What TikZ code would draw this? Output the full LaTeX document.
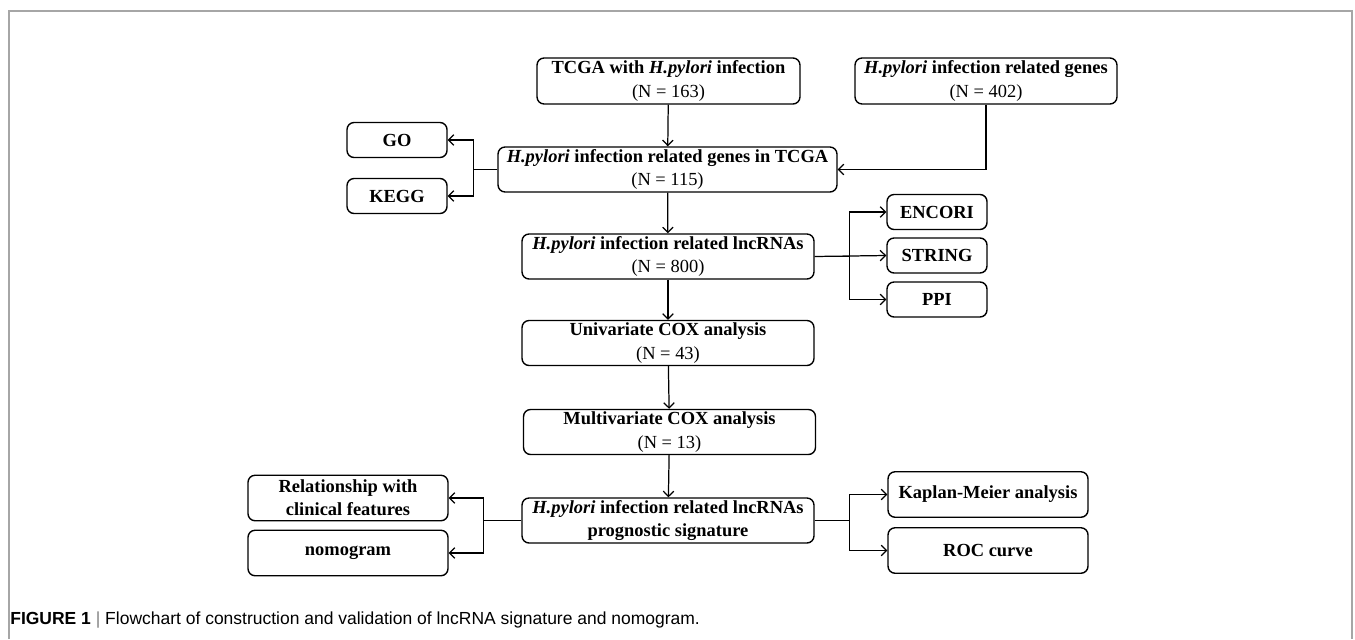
\documentclass[tikz,border=0pt]{standalone}
\usepackage{fontspec}
\setmainfont{Liberation Serif}
\newfontfamily\capfont{Liberation Sans}
\usetikzlibrary{arrows.meta}

\begin{document}
\begin{tikzpicture}[x=0.02cm,y=-0.02cm]

\tikzset{stage/.style = {shape=rectangle,draw,rounded corners=4pt,line width=0.8pt,align=center,font=\fontsize{10.5}{13.2}\selectfont\bfseries,inner sep=1pt}}
\tikzset{mainbox/.style = {stage,minimum width=5.84cm,minimum height=0.9cm}}
\tikzset{sidebox/.style = {stage,minimum width=2.0cm,minimum height=0.7cm}}
\tikzset{wide/.style = {stage,minimum width=4.0cm,minimum height=0.91cm}}
\tikzset{edge/.style = {-{Straight Barb[length=3pt,width=6pt]},line width=0.7pt}}
\newcommand{\hp}{\textit{H.pylori}}

\useasboundingbox (0,0) rectangle (1355,639);
% frame
\draw[gray!70,line width=0.6pt] (9,639) -- (9,11) -- (1352,11) -- (1352,639);

% vertices
\node[stage,minimum width=5.26cm,minimum height=0.92cm] (tcga) at (668.5,81) {TCGA with \hp{} infection\\ \mdseries(N = 163)};
\node[stage,minimum width=5.24cm,minimum height=0.92cm] (hpgenes) at (986,81) {\hp{} infection related genes\\ \mdseries(N = 402)};
\node[stage,minimum width=6.78cm,minimum height=0.9cm] (tcgagenes) at (667.5,169.5) {\hp{} infection related genes in TCGA\\ \mdseries(N = 115)};
\node[sidebox] (go) at (397,140) {GO};
\node[sidebox] (kegg) at (397,196) {KEGG};
\node[mainbox] (lnc) at (668,256.5) {\hp{} infection related lncRNAs\\ \mdseries(N = 800)};
\node[sidebox] (encori) at (937,212) {ENCORI};
\node[sidebox] (string) at (937,255.5) {STRING};
\node[sidebox] (ppi) at (937,299.5) {PPI};
\node[mainbox] (unicox) at (668,343) {Univariate COX analysis\\ \mdseries(N = 43)};
\node[mainbox] (multicox) at (669.5,432) {Multivariate COX analysis\\ \mdseries(N = 13)};
\node[mainbox] (sig) at (668,520.5) {\hp{} infection related lncRNAs\\ prognostic signature};
\node[wide] (km) at (988,494.5) {Kaplan-Meier analysis};
\node[wide] (roc) at (988,550.5) {ROC curve};
\node[wide] (clin) at (348,498) {Relationship with\\ clinical features};
\node[wide] (nomo) at (348,553) {nomogram};

%edges
\draw[edge] (tcga) -- (tcgagenes);
\draw[edge] (hpgenes.south) |- (tcgagenes.east);
\draw[edge] (tcgagenes.west) -- ++(-24,0) |- (go.east);
\draw[edge] (tcgagenes.west) -- ++(-24,0) |- (kegg.east);
\draw[edge] (tcgagenes) -- (lnc);
\draw[edge] (lnc.east) -- ++(35,0) |- (encori.west);
\draw[edge] (lnc.east) -- (string.west);
\draw[edge] (lnc.east) -- ++(35,0) |- (ppi.west);
\draw[edge] (lnc) -- (unicox);
\draw[edge] (unicox) -- (multicox);
\draw[edge] (multicox) -- (sig);
\draw[edge] (sig.east) -- ++(35,0) |- (km.west);
\draw[edge] (sig.east) -- ++(35,0) |- (roc.west);
\draw[edge] (sig.west) -- ++(-38,0) |- (clin.east);
\draw[edge] (sig.west) -- ++(-38,0) |- (nomo.east);

% caption
\node[anchor=west,inner sep=0pt,font=\capfont\fontsize{9.95}{11}\selectfont] (caption) at (10,620) {\textbf{FIGURE 1} \textcolor{gray}{|} Flowchart of construction and validation of lncRNA signature and nomogram.};
\end{tikzpicture}
\end{document}
